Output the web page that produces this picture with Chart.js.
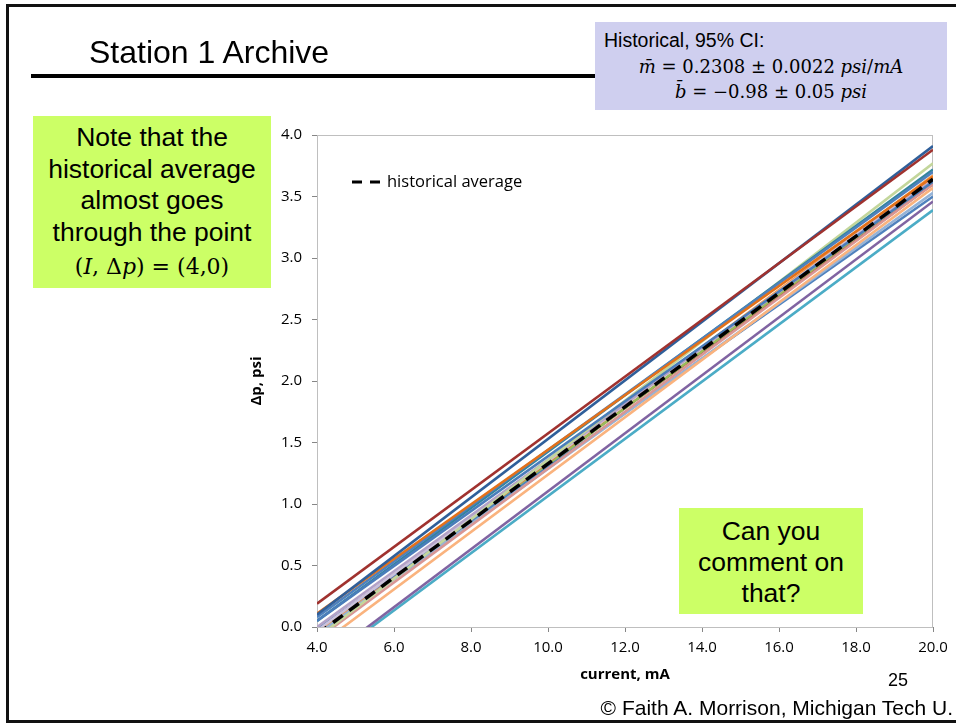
<!DOCTYPE html>
<html>
<head>
<meta charset="utf-8">
<script src="https://cdn.jsdelivr.net/npm/chart.js@4.4.1/dist/chart.umd.min.js"></script>
<style>
html,body{margin:0;padding:0;width:956px;height:723px;overflow:hidden;background:#fff;}
#page{position:absolute;left:0;top:0;width:956px;height:723px;}
#chart{position:absolute;left:0;top:0;}
.abs{position:absolute;white-space:nowrap;color:#000;}
.arial{font-family:"Liberation Sans",Arial,sans-serif;}
.math{font-family:"DejaVu Serif",serif;}
.frame{position:absolute;left:6px;top:4px;width:1000px;height:713px;border:3px solid #111;}
</style>
</head>
<body>
<div id="page">
  <div class="frame"></div>
  <canvas id="chart" width="956" height="723"></canvas>

  <div class="abs arial" style="left:89px;top:33px;font-size:32px;line-height:38px;">Station 1 Archive</div>
  <div class="abs" style="left:31px;top:74px;width:564px;height:4px;background:#000;"></div>

  <div class="abs" style="left:595px;top:22px;width:352px;height:88px;background:#CFCFEF;"></div>
  <div class="abs arial" style="left:604px;top:28px;font-size:19.5px;line-height:24px;">Historical, 95% CI:</div>
  <div class="abs math" style="left:595px;width:352px;text-align:center;top:56px;font-size:18px;line-height:22px;"><i>m̄</i> = 0.2308 ± 0.0022 <i>psi</i>/<i>mA</i></div>
  <div class="abs math" style="left:595px;width:352px;text-align:center;top:81px;font-size:18px;line-height:22px;"><i>b̄</i> = −0.98 ± 0.05 <i>psi</i></div>

  <div class="abs" style="left:33px;top:116px;width:238px;height:172px;background:#CCFF66;"></div>
  <div class="abs arial" style="left:33px;width:238px;text-align:center;top:122px;font-size:26.5px;line-height:31.6px;">Note that the<br>historical average<br>almost goes<br>through the point</div>
  <div class="abs math" style="left:33px;width:238px;text-align:center;top:253px;font-size:22px;line-height:28px;">(<i>I</i>, Δ<i>p</i>) = (4,0)</div>

  <div class="abs" style="left:679px;top:508px;width:184px;height:106px;background:#CCFF66;"></div>
  <div class="abs arial" style="left:679px;width:184px;text-align:center;top:516px;font-size:26.5px;line-height:31px;">Can you<br>comment on<br>that?</div>

  <div class="abs arial" style="left:888px;top:669px;font-size:18px;line-height:22px;">25</div>
  <div class="abs arial" style="right:3px;top:695px;font-size:21px;line-height:26px;">© Faith A. Morrison, Michigan Tech U.</div>
</div>

<script>
// ---- data ----
const xEnds = [4, 20];                       // current, mA (line end points)
const xTicks = [4, 6, 8, 10, 12, 14, 16, 18, 20];
const yTicks = [0, 0.5, 1, 1.5, 2, 2.5, 3, 3.5, 4];

const avgLabel = "historical average";
const avgValues = [-0.06, 3.64];             // Δp at 4 mA and 20 mA

// archive runs: Δp at 4 mA and at 20 mA
const runLabels = ["run 1","run 2","run 3","run 4","run 5","run 6","run 7","run 8","run 9",
                   "run 10","run 11","run 12","run 13","run 14","run 15","run 16","run 17","run 18"];
const runStart = [0.19, 0.10, 0.11, 0.08, 0.05, 0.05, -0.09, 0.00, -0.03,
                  -0.16, -0.10, -0.06, -0.02, -0.31, -0.33, -0.05, -0.07, -0.04];
const runEnd   = [3.88, 3.91, 3.66, 3.70, 3.62, 3.72, 3.77, 3.63, 3.65,
                  3.57, 3.60, 3.53, 3.50, 3.46, 3.39, 3.67, 3.63, 3.60];
const runColors = ["#A0322F","#2F5F9A","#E3711A","#4F81BD","#4A7DBA","#31859C","#C3D69B","#B3A2C7","#CCC1DA",
                   "#FAB37E","#D99694","#95B3D7","#4F81BD","#8064A2","#4BACC6","#F79646","#9BBB59","#C0504D"];

const tickFont = {family: "'Open Sans', sans-serif", size: 15};
const titleFont = {family: "'Open Sans', sans-serif", size: 15, weight: "bold"};

const datasets = [{
  label: avgLabel,
  data: xEnds.map((x, i) => ({x: x, y: avgValues[i]})),
  borderColor: "#000",
  borderWidth: 3.5,
  borderDash: [12, 8],
  pointRadius: 0,
  fill: false
}];
runLabels.forEach((lab, k) => {
  datasets.push({
    label: lab,
    data: [{x: xEnds[0], y: runStart[k]}, {x: xEnds[1], y: runEnd[k]}],
    borderColor: runColors[k],
    borderWidth: 2.6,
    pointRadius: 0,
    fill: false
  });
});

const frameAndLegend = {
  id: "frameAndLegend",
  beforeDatasetsDraw(chart) {
    const a = chart.chartArea, c = chart.ctx;
    c.save();
    c.strokeStyle = "#BFBFBF";
    c.lineWidth = 1;
    c.strokeRect(a.left + 0.5, a.top + 0.5, a.right - a.left - 1, a.bottom - a.top);
    c.restore();
  },
  afterDraw(chart) {
    const a = chart.chartArea, c = chart.ctx;
    const ds = chart.data.datasets[0];
    const x0 = a.left + 35, y0 = a.top + 47;
    c.save();
    c.strokeStyle = ds.borderColor;
    c.lineWidth = 3;
    c.setLineDash([10, 8]);
    c.beginPath();
    c.moveTo(x0, y0);
    c.lineTo(x0 + 28, y0);
    c.stroke();
    c.setLineDash([]);
    c.fillStyle = "#000";
    c.font = "16.5px 'Open Sans', sans-serif";
    c.textBaseline = "middle";
    c.fillText(ds.label, x0 + 35, y0);
    c.restore();
  }
};

new Chart(document.getElementById("chart"), {
  type: "line",
  data: {datasets: datasets},
  options: {
    responsive: false,
    animation: false,
    layout: {padding: {left: 240, top: 135, right: 23, bottom: 39}},
    plugins: {legend: {display: false}, tooltip: {enabled: false}},
    scales: {
      x: {
        type: "linear",
        min: xTicks[0], max: xTicks[xTicks.length - 1],
        afterBuildTicks: s => { s.ticks = xTicks.map(v => ({value: v})); },
        afterFit: s => { s.height = 57; },
        ticks: {font: tickFont, color: "#000", padding: 7, maxRotation: 0,
                callback: v => Number(v).toFixed(1)},
        grid: {display: true, drawOnChartArea: false, drawTicks: true, tickLength: 5, color: "#868686"},
        border: {display: true, color: "#868686"},
        title: {display: true, text: "current, mA", font: titleFont, color: "#000", padding: {top: 0, bottom: 0}}
      },
      y: {
        type: "linear",
        min: yTicks[0], max: yTicks[yTicks.length - 1],
        afterBuildTicks: s => { s.ticks = yTicks.map(v => ({value: v})); },
        afterFit: s => { s.width = 77; },
        ticks: {font: tickFont, color: "#000", padding: 10,
                callback: v => Number(v).toFixed(1)},
        grid: {display: true, drawOnChartArea: false, drawTicks: true, tickLength: 5, color: "#868686"},
        border: {display: true, color: "#868686"},
        title: {display: true, text: "Δp, psi", font: titleFont, color: "#000", padding: {top: 8, bottom: 0}}
      }
    }
  },
  plugins: [frameAndLegend]
});
</script>
</body>
</html>
